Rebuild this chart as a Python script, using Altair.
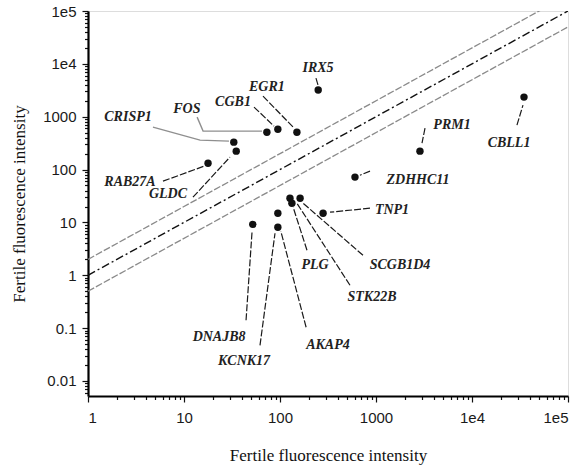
import altair as alt
import pandas as pd

# ---- data ----
genes = ["IRX5", "EGR1", "CGB1", "FOS", "CRISP1", "GLDC", "RAB27A", "PRM1", "CBLL1",
         "ZDHHC11", "TNP1", "STK22B", "SCGB1D4", "PLG", "KCNK17", "AKAP4", "DNAJB8"]
x_vals = [250, 150, 95, 73, 33, 35, 17.8, 2870, 34800, 604, 281, 127, 162, 133, 95, 95, 52]
y_vals = [3200, 510, 580, 510, 330, 223, 132, 223, 2350, 72, 14.9, 28.7, 28.7, 23.1, 14.9, 8.1, 9.2]

label_x = [249, 73, 32.4, 10.7, 2.61, 6.81, 2.74, 6190, 24300, 2740, 1468, 908, 1778, 232, 42.2, 316, 23.2]
label_y = [8320, 3640, 1890, 1390, 983, 34.2, 57.7, 693, 316, 63, 17.0, 0.383, 1.55, 1.55, 0.0235, 0.0472, 0.067]

# leader polylines (gene -> points, from label side toward the dot)
leader_pts = {
    "IRX5": [(237, 5380), (249, 3970)],
    "EGR1": [(66.5, 2456), (137, 635)],
    "CGB1": [(53.6, 1520), (86.6, 664)],
    "FOS": [(13.7, 983), (15.8, 534), (64.9, 534)],
    "CRISP1": [(4.75, 635), (14.7, 360), (29.4, 345)],
    "GLDC": [(12.4, 30.0), (30.1, 172)],
    "RAB27A": [(6.04, 60.3), (16.2, 116)],
    "PRM1": [(3240, 608), (3015, 316)],
    "CBLL1": [(29400, 693), (33970, 1660)],
    "ZDHHC11": [(866, 93.3), (681, 78.3)],
    "TNP1": [(866, 18.6), (332, 15.6)],
    "PLG": [(191, 2.98), (137, 19.4)],
    "SCGB1D4": [(732, 2.39), (174, 23.1)],
    "STK22B": [(536, 0.647), (150, 23.1)],
    "AKAP4": [(187, 0.104), (102, 6.81)],
    "KCNK17": [(61.9, 0.0472), (88.7, 6.24)],
    "DNAJB8": [(44.3, 0.141), (51.1, 6.52)],
}
grey_leaders = ["FOS", "CRISP1"]

# diagonal reference lines: y = 2x, y = x, y = x/2
diag_x = [1, 100000]
diag_upper = [2, 200000]
diag_mid = [1, 100000]
diag_lower = [0.5, 50000]

x_major = [1, 10, 100, 1000, 10000, 100000]
y_major = [0.01, 0.1, 1, 10, 100, 1000, 10000, 100000]
x_minor = [d * k for d in [1, 10, 100, 1000, 10000] for k in range(2, 10)]
y_minor = [d * k for d in [0.001, 0.01, 0.1, 1, 10, 100, 1000, 10000] for k in range(2, 10)
           if 0.0052 <= d * k <= 100000]

# ---- tables ----
pts = pd.DataFrame({"gene": genes, "x": x_vals, "y": y_vals})
labels = pd.DataFrame({"gene": genes, "x": label_x, "y": label_y})
lead_rows = []
for g, plist in leader_pts.items():
    for i, (lx, ly) in enumerate(plist):
        lead_rows.append({"gene": g, "x": lx, "y": ly, "o": i})
leads = pd.DataFrame(lead_rows)
leads_black = leads[~leads["gene"].isin(grey_leaders)]
leads_grey = leads[leads["gene"].isin(grey_leaders)]
diag_outer = pd.DataFrame({"x": diag_x * 2, "y": diag_upper + diag_lower,
                           "s": ["up"] * 2 + ["low"] * 2})
diag_center = pd.DataFrame({"x": diag_x, "y": diag_mid})

is_dec = "abs(log(datum.value)/LN10 - round(log(datum.value)/LN10)) < 0.000001"
lab_expr = ("(" + is_dec + ") ? (datum.value >= 10000 ? '1e' + round(log(datum.value)/LN10) : "
            "'' + datum.value) : ''")

xs = alt.Scale(type="log", domain=[1, 100000], nice=False)
ys = alt.Scale(type="log", domain=[0.0052, 100000], nice=False)

common_axis = dict(
    labelExpr=lab_expr,
    tickSize={"condition": {"test": is_dec, "value": 6}, "value": 3.5},
    tickColor="#111",
    tickWidth=1.2,
    domainColor="#000",
    domainWidth=2.2,
    grid=False,
    labelFont="Liberation Sans",
    labelFontSize=15,
    labelColor="#1a1a1a",
    titleFont="Liberation Serif",
    titleFontSize=17,
    titleFontWeight="normal",
    titleColor="#111",
    labelOverlap=False,
)

x_enc = alt.X("x:Q", scale=xs, axis=alt.Axis(values=x_major + x_minor, labelPadding=8,
                                             titlePadding=22, title="Fertile fluorescence intensity",
                                             **common_axis))
y_enc = alt.Y("y:Q", scale=ys, axis=alt.Axis(values=y_major + y_minor, labelPadding=6,
                                             titlePadding=14, title="Fertile fluorescence intensity",
                                             **common_axis))

outer_layer = alt.Chart(diag_outer).mark_line(
    clip=True, strokeWidth=1.3, color="#8a8a8a", strokeDash=[7, 2]
).encode(x=x_enc, y=y_enc, detail="s:N")

center_layer = alt.Chart(diag_center).mark_line(
    clip=True, strokeWidth=1.4, color="#111111", strokeDash=[8, 3, 2, 3]
).encode(x="x:Q", y="y:Q")

lead_black = alt.Chart(leads_black).mark_line(
    strokeWidth=1.2, color="#1a1a1a", strokeDash=[7, 2]
).encode(x="x:Q", y="y:Q", detail="gene:N", order="o:Q")

lead_grey = alt.Chart(leads_grey).mark_line(
    strokeWidth=1.4, color="#8f8f8f"
).encode(x="x:Q", y="y:Q", detail="gene:N", order="o:Q")

dot_layer = alt.Chart(pts).mark_circle(size=55, opacity=1, color="#111").encode(x="x:Q", y="y:Q")

text_layer = alt.Chart(labels).mark_text(
    font="Liberation Serif", fontStyle="italic", fontWeight="bold", fontSize=14, color="#222",
    align="center", baseline="middle",
).encode(x="x:Q", y="y:Q", text="gene:N")

chart = alt.layer(outer_layer, center_layer, lead_black, lead_grey, dot_layer, text_layer).properties(
    width=480, height=385,
    autosize=alt.AutoSizeParams(type="none"),
    padding={"left": 88, "top": 11, "right": 12, "bottom": 70},
).configure_view(stroke="#111", strokeWidth=1.5).configure(background="white")

chart.save("out.html", embed_options={"renderer": "svg", "actions": False})
